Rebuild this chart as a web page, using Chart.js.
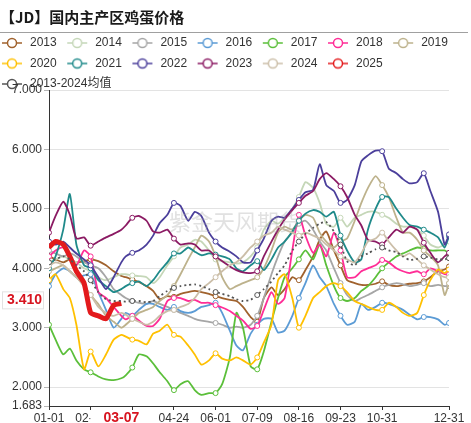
<!DOCTYPE html>
<html>
<head>
<meta charset="utf-8">
<title>国内主产区鸡蛋价格</title>
<script src="https://cdn.jsdelivr.net/npm/chart.js@4.4.1/dist/chart.umd.min.js"></script>
<style>
    html, body { margin: 0; padding: 0; background: #fff; }
    #wrap { width: 471px; height: 423px; }
</style>
</head>
<body>
<div id="wrap"><canvas id="eggChart" width="471" height="423"></canvas></div>
<script>
// day-of-year positions (leap calendar, 01-01 = 0, 12-31 = 365)
const DAYS = [
    0, 6, 13, 19, 25, 32,
    38, 45, 52, 59, 66, 70,
    76, 82, 89, 95, 101, 108,
    114, 120, 127, 133, 139, 146,
    152, 158, 165, 171, 177, 184,
    190, 196, 203, 209, 215, 222,
    228, 234, 241, 247, 253, 260,
    266, 272, 279, 285, 291, 298,
    304, 310, 317, 323, 329, 336,
    342, 348, 355, 361, 365
];

const X_TICK_DAYS = [0, 38, 76, 114, 152, 190, 228, 266, 304, 365];
const X_TICK_LABELS = ['01-01', '02-08', '', '04-24', '06-01', '07-09', '08-16', '09-23', '10-31', '12-31'];
const Y_TICKS = [1.683, 2, 3, 4, 5, 6, 7];

const SERIES_NAMES = ['2013', '2014', '2015', '2016', '2017', '2018', '2019',
    '2020', '2021', '2022', '2023', '2024', '2025', '2013-2024均值'];
const SERIES_COLORS = ['#a0622d', '#c5d7b8', '#a6a6a6', '#5b9bd5', '#5bbf3a', '#ff2d96', '#bdb28c',
    '#ffc000', '#1f8a8a', '#4b3f9b', '#8b1a63', '#cbbea8', '#e31a1c', '#555555'];

const PRICE_2013 = [4.20, 4.15, 4.10, 4.15, 4.10, 4.12, 4.15, 4.12, 4.05, 3.95, 3.87, 3.85,
    3.81, 3.77, 3.70, 3.62, 3.48, 3.53, 3.52, 3.57, 3.60, 3.62, 3.60, 3.57,
    3.53, 3.50, 3.47, 3.45, 3.35, 3.18, 3.10, 3.50, 3.68, 3.55, 3.65, 3.85,
    3.80, 3.97, 4.20, 4.48, 4.62, 4.30, 4.05, 3.80, 3.75, 3.72, 3.72, 3.74,
    3.78, 3.72, 3.70, 3.72, 3.74, 3.75, 3.78, 3.85, 3.95, 3.98, 4.03];
const PRICE_2014 = [4.10, 4.15, 4.20, 4.15, 4.10, 4.00, 3.95, 3.85, 3.80, 3.85, 3.90, 3.90,
    3.88, 3.87, 3.85, 3.75, 3.85, 4.05, 4.20, 4.35, 4.40, 4.48, 4.45, 4.30,
    4.15, 4.12, 4.10, 4.08, 4.10, 4.20, 4.35, 4.65, 4.80, 4.75, 4.85, 5.00,
    5.20, 5.45, 5.35, 5.10, 4.75, 4.70, 4.85, 4.70, 4.85, 4.90, 4.95, 4.95,
    4.90, 4.85, 4.75, 4.70, 4.70, 4.65, 4.55, 4.40, 4.35, 4.40, 4.45];
const PRICE_2015 = [4.30, 4.25, 4.20, 4.25, 4.20, 4.10, 4.05, 4.00, 3.85, 3.65, 3.55, 3.50,
    3.45, 3.42, 3.40, 3.45, 3.40, 3.35, 3.30, 3.25, 3.20, 3.15, 3.12, 3.10,
    3.08, 3.05, 3.00, 3.02, 3.00, 3.05, 3.20, 3.50, 3.90, 4.20, 4.45, 4.60,
    4.75, 4.80, 4.65, 4.45, 4.30, 4.00, 3.75, 3.55, 3.45, 3.50, 3.55, 3.62,
    3.68, 3.72, 3.75, 3.73, 3.70, 3.72, 3.75, 3.70, 3.72, 3.70, 3.70];
const PRICE_2016 = [3.70, 3.90, 4.00, 3.95, 3.85, 3.88, 3.90, 3.60, 3.30, 3.00, 3.15, 3.25,
    3.20, 3.30, 3.40, 3.40, 3.35, 3.30, 3.35, 3.28, 3.25, 3.28, 3.35, 3.38,
    3.42, 3.25, 2.95, 2.70, 2.62, 2.90, 3.05, 3.15, 3.15, 2.92, 2.95, 3.20,
    3.50, 3.75, 4.05, 3.85, 3.70, 3.40, 3.20, 3.05, 3.10, 3.40, 3.30, 3.35,
    3.42, 3.40, 3.35, 3.30, 3.22, 3.14, 3.18, 3.18, 3.14, 3.05, 3.08];
const PRICE_2017 = [3.05, 2.80, 2.55, 2.65, 2.45, 2.30, 2.25, 2.18, 2.13, 2.12, 2.15, 2.20,
    2.33, 2.55, 2.52, 2.40, 2.25, 2.10, 1.95, 2.05, 2.10, 1.95, 1.87, 1.90,
    1.90, 2.05, 2.50, 3.25, 3.00, 2.35, 2.30, 2.60, 3.10, 3.50, 3.85, 4.00,
    4.15, 4.30, 4.15, 4.40, 4.05, 3.70, 3.50, 3.45, 3.50, 3.62, 3.70, 3.85,
    4.00, 4.10, 4.20, 4.25, 4.30, 4.35, 4.33, 4.30, 4.30, 4.30, 4.25];
const PRICE_2018 = [4.20, 4.30, 4.35, 4.20, 4.05, 4.30, 4.20, 3.60, 3.50, 3.35, 3.20, 3.14,
    3.20, 3.12, 3.03, 3.03, 3.15, 3.45, 3.50, 3.50, 3.45, 3.47, 3.42, 3.42,
    3.38, 3.34, 3.28, 3.20, 3.12, 2.98, 3.03, 3.30, 3.60, 3.40, 3.50, 4.30,
    4.90, 4.55, 4.26, 4.40, 4.20, 4.60, 4.30, 3.85, 3.85, 3.95, 4.00, 4.05,
    4.14, 4.10, 4.00, 3.95, 3.92, 3.95, 3.90, 4.00, 3.95, 3.90, 3.90];
const PRICE_2019 = [3.95, 4.00, 4.05, 3.95, 3.85, 3.70, 3.55, 3.40, 3.20, 3.10, 3.00, 3.05,
    3.15, 3.25, 3.30, 3.35, 3.45, 3.55, 3.70, 3.90, 4.15, 4.35, 4.55, 4.45,
    4.20, 3.85, 3.65, 3.70, 3.75, 3.80, 3.85, 4.00, 4.30, 4.60, 4.70, 4.65,
    4.80, 4.90, 4.85, 4.60, 4.45, 4.35, 4.45, 4.50, 4.80, 5.10, 5.35, 5.55,
    5.40, 5.20, 4.85, 4.60, 4.60, 4.48, 4.30, 4.20, 4.05, 3.55, 3.75];
const PRICE_2020 = [3.80, 3.90, 3.65, 3.50, 3.05, 2.30, 2.60, 2.35, 2.55, 2.80, 2.88, 2.85,
    2.80, 2.78, 2.72, 2.90, 2.95, 3.05, 2.88, 2.85, 2.70, 2.55, 2.38, 2.45,
    2.57, 2.48, 2.45, 2.50, 2.45, 2.38, 2.50, 2.75, 3.05, 3.80, 3.90, 3.50,
    3.00, 3.20, 3.50, 3.60, 3.70, 3.75, 3.70, 3.60, 3.45, 3.40, 3.35, 3.30,
    3.30, 3.42, 3.35, 3.25, 3.20, 3.25, 3.55, 3.80, 3.98, 3.92, 3.98];
const PRICE_2021 = [4.00, 4.20, 4.65, 5.25, 4.40, 4.05, 4.00, 3.80, 3.70, 3.60, 3.65, 3.70,
    3.75, 3.78, 3.70, 3.80, 3.95, 4.10, 4.25, 4.25, 4.35, 4.28, 4.22, 4.25,
    4.23, 4.20, 4.15, 4.00, 3.95, 4.05, 4.12, 3.97, 4.15, 4.35, 4.45, 4.62,
    4.80, 4.92, 4.98, 4.95, 4.87, 4.95, 4.55, 4.30, 4.10, 4.15, 4.65, 5.00,
    5.20, 5.20, 5.00, 4.85, 4.73, 4.70, 4.65, 4.60, 4.52, 4.35, 4.54];
const PRICE_2022 = [4.45, 4.40, 4.45, 4.35, 4.25, 4.15, 4.05, 3.85, 3.65, 3.85, 4.10, 4.20,
    4.26, 4.30, 4.40, 4.55, 4.76, 4.90, 5.10, 5.05, 4.80, 4.95, 4.88, 4.60,
    4.45, 4.35, 4.28, 4.20, 4.10, 4.10, 4.30, 4.50, 4.80, 4.87, 4.85, 5.00,
    5.15, 5.28, 5.32, 5.75, 5.40, 5.30, 5.10, 5.15, 5.40, 5.80, 5.90, 5.98,
    5.97, 5.68, 5.60, 5.50, 5.43, 5.45, 5.60, 5.30, 4.95, 4.40, 4.57];
const PRICE_2023 = [4.60, 4.88, 5.12, 4.90, 4.50, 4.52, 4.38, 4.45, 4.52, 4.58, 4.65, 4.72,
    4.85, 4.88, 4.80, 4.62, 4.60, 4.65, 4.50, 4.40, 4.42, 4.40, 4.30, 4.30,
    4.20, 4.12, 4.03, 3.97, 3.93, 3.92, 3.95, 4.20, 4.45, 4.65, 4.82, 4.98,
    5.10, 5.22, 5.30, 5.50, 5.60, 5.50, 5.38, 5.20, 4.90, 4.72, 4.48, 4.45,
    4.40, 4.52, 4.65, 4.60, 4.70, 4.65, 4.43, 4.26, 4.10, 4.20, 4.26];
const PRICE_2024 = [4.05, 4.10, 4.05, 3.95, 3.85, 3.70, 3.55, 3.35, 3.25, 3.20, 3.25, 3.22,
    3.15, 3.10, 3.05, 3.10, 3.20, 3.28, 3.30, 3.35, 3.40, 3.50, 3.65, 3.75,
    3.85, 3.95, 4.05, 4.10, 4.20, 4.35, 4.45, 4.55, 4.60, 4.70, 4.65, 4.60,
    4.55, 4.60, 4.55, 4.50, 4.40, 4.30, 4.20, 4.15, 4.10, 4.25, 4.45, 4.50,
    4.60, 4.45, 4.30, 4.20, 4.25, 4.15, 4.05, 3.98, 3.90, 3.85, 3.85];
const PRICE_2025 = [4.35, 4.45, 4.40, 4.20, 3.95, 3.75, 3.25, 3.20, 3.15, 3.38, 3.41];
const PRICE_AVG = [4.10, 4.15, 4.20, 4.15, 4.05, 3.95, 3.80, 3.60, 3.48, 3.45, 3.45, 3.44,
    3.45, 3.45, 3.43, 3.45, 3.53, 3.62, 3.67, 3.70, 3.72, 3.73, 3.70, 3.65,
    3.60, 3.57, 3.53, 3.48, 3.45, 3.47, 3.55, 3.65, 3.78, 3.92, 4.05, 4.30,
    4.45, 4.58, 4.68, 4.75, 4.78, 4.62, 4.40, 4.12, 4.05, 4.20, 4.25, 4.32,
    4.35, 4.30, 4.27, 4.20, 4.14, 4.16, 4.20, 4.18, 4.15, 4.15, 4.17];

const LATEST_DAY = 66;
const LATEST_DATE = '03-07';
const LATEST_VALUE = 3.41;

const SERIES_VALUES = [PRICE_2013, PRICE_2014, PRICE_2015, PRICE_2016, PRICE_2017, PRICE_2018,
    PRICE_2019, PRICE_2020, PRICE_2021, PRICE_2022, PRICE_2023, PRICE_2024, PRICE_2025, PRICE_AVG];

const LATIN_FONT = "'Liberation Sans', 'Noto Sans CJK SC', sans-serif";

Chart.defaults.font.family = LATIN_FONT;
Chart.defaults.font.size = 12;
Chart.defaults.color = '#333';

// small "-o-" marker used by the legend
function legendMarker(color) {
    const c = document.createElement('canvas');
    c.width = 24;
    c.height = 14;
    const g = c.getContext('2d');
    g.strokeStyle = color;
    g.lineWidth = 1.5;
    g.beginPath();
    g.moveTo(2, 7);
    g.lineTo(22, 7);
    g.stroke();
    g.beginPath();
    g.arc(12, 7, 4.5, 0, Math.PI * 2);
    g.fillStyle = '#fff';
    g.fill();
    g.stroke();
    return c;
}

const datasets = SERIES_VALUES.map((values, i) => {
    const isLatest = i === 12;
    const isAvg = i === SERIES_VALUES.length - 1;
    return {
        label: SERIES_NAMES[i],
        data: values.map((v, k) => ({ x: DAYS[k], y: v })),
        borderColor: SERIES_COLORS[i],
        backgroundColor: '#fff',
        borderWidth: isLatest ? 5 : 1.8,
        borderDash: isAvg ? [2, 3] : [],
        tension: 0.2,
        fill: false,
        pointRadius: (ctx) => {
            const d = ctx.raw ? ctx.raw.x : -1;
            return !isLatest && (d % 38 === 0 || d === 365) ? 2.5 : 0;
        },
        pointHoverRadius: 0,
        pointBorderWidth: 1,
        pointBackgroundColor: '#fff',
        pointBorderColor: SERIES_COLORS[i],
        order: 20 - i
    };
});

const layoutTweaks = {
    id: 'layoutTweaks',
    beforeInit(chart) {
        const fit = chart.legend.fit;
        chart.legend.fit = function () {
            fit.call(this);
            this.height -= 10;
        };
    },
    afterLayout(chart) {
        chart.legend.left = -8.5;
        chart.legend.bottom += 12;
    }
};

const annotations = {
    id: 'annotations',
    afterDatasetsDraw(chart) {
        const { ctx, chartArea } = chart;
        ctx.save();
        ctx.font = "22px 'Noto Sans CJK SC', sans-serif";
        ctx.fillStyle = 'rgba(170, 170, 170, 0.35)';
        ctx.textAlign = 'center';
        ctx.textBaseline = 'middle';
        ctx.fillText('紫金天风期货', chartArea.left + 186, 222);
        ctx.restore();
    },
    afterDraw(chart) {
        const { ctx, scales: { x, y } } = chart;
        ctx.save();

        // rule under the title
        ctx.strokeStyle = '#a0a0a0';
        ctx.lineWidth = 1;
        ctx.beginPath();
        ctx.moveTo(0, 32.5);
        ctx.lineTo(468, 32.5);
        ctx.stroke();

        ctx.font = 'bold 14px ' + LATIN_FONT;
        ctx.textBaseline = 'middle';

        // latest value tag on the y axis
        const vy = y.getPixelForValue(LATEST_VALUE) - 3;
        ctx.fillStyle = '#fff';
        ctx.strokeStyle = '#e2e2e2';
        ctx.fillRect(2, vy - 9, 42, 18);
        ctx.strokeRect(2.5, vy - 8.5, 41, 17);
        ctx.fillStyle = '#d7141f';
        ctx.textAlign = 'right';
        ctx.fillText(LATEST_VALUE.toFixed(3), 42, vy);

        // latest date tag on the x axis
        const dx = x.getPixelForValue(LATEST_DAY);
        ctx.fillStyle = '#fff';
        ctx.fillRect(dx - 31, 410, 57, 13);
        ctx.fillStyle = '#d7141f';
        ctx.textAlign = 'center';
        ctx.fillText(LATEST_DATE, dx, 418);

        ctx.restore();
    }
};

new Chart(document.getElementById('eggChart'), {
    type: 'line',
    data: { datasets: datasets },
    plugins: [layoutTweaks, annotations],
    options: {
        responsive: false,
        animation: false,
        events: [],
        layout: { padding: { left: 0, right: 0, top: 0, bottom: 0 } },
        plugins: {
            tooltip: { enabled: false },
            title: {
                display: true,
                text: '【JD】国内主产区鸡蛋价格',
                align: 'start',
                color: '#1a1a1a',
                font: { family: "'Noto Sans CJK SC', sans-serif", size: 15, weight: 'bold' },
                padding: { top: 8.5, bottom: 2 }
            },
            legend: {
                position: 'top',
                align: 'start',
                labels: {
                    usePointStyle: true,
                    pointStyleWidth: 24,
                    padding: 8.5,
                    color: '#333',
                    font: { family: LATIN_FONT, size: 12 },
                    sort: (a, b) => a.datasetIndex - b.datasetIndex,
                    generateLabels: (chart) => chart.data.datasets.map((ds, i) => ({
                        text: ds.label,
                        pointStyle: legendMarker(ds.borderColor),
                        fillStyle: '#fff',
                        strokeStyle: ds.borderColor,
                        lineWidth: 0,
                        hidden: false,
                        fontColor: '#333',
                        datasetIndex: i
                    }))
                }
            }
        },
        scales: {
            x: {
                type: 'linear',
                min: 0,
                max: 365,
                offset: false,
                afterBuildTicks: (scale) => {
                    scale.ticks = X_TICK_DAYS.map(v => ({ value: v }));
                },
                afterFit: (scale) => {
                    scale.height = 17;
                    scale.paddingRight = 22;
                },
                ticks: {
                    autoSkip: false,
                    maxRotation: 0,
                    minRotation: 0,
                    padding: 1,
                    color: '#333',
                    callback: (value, index) => X_TICK_LABELS[index]
                },
                grid: {
                    drawOnChartArea: false,
                    tickLength: 4,
                    color: '#333'
                },
                border: { color: '#333', width: 1 }
            },
            y: {
                min: 1.683,
                max: 7,
                afterBuildTicks: (scale) => {
                    scale.ticks = Y_TICKS.map(v => ({ value: v }));
                },
                afterFit: (scale) => {
                    scale.width = 49;
                },
                ticks: {
                    padding: 2,
                    color: '#333',
                    callback: (value) => Number(value).toFixed(3)
                },
                grid: {
                    color: (ctx) => (ctx.tick && ctx.tick.value === 1.683 ? 'rgba(0,0,0,0)' : '#e3e3e3'),
                    tickColor: '#b5b5b5',
                    tickLength: 5
                },
                border: { color: '#333', width: 1 }
            }
        }
    }
});
</script>
</body>
</html>
